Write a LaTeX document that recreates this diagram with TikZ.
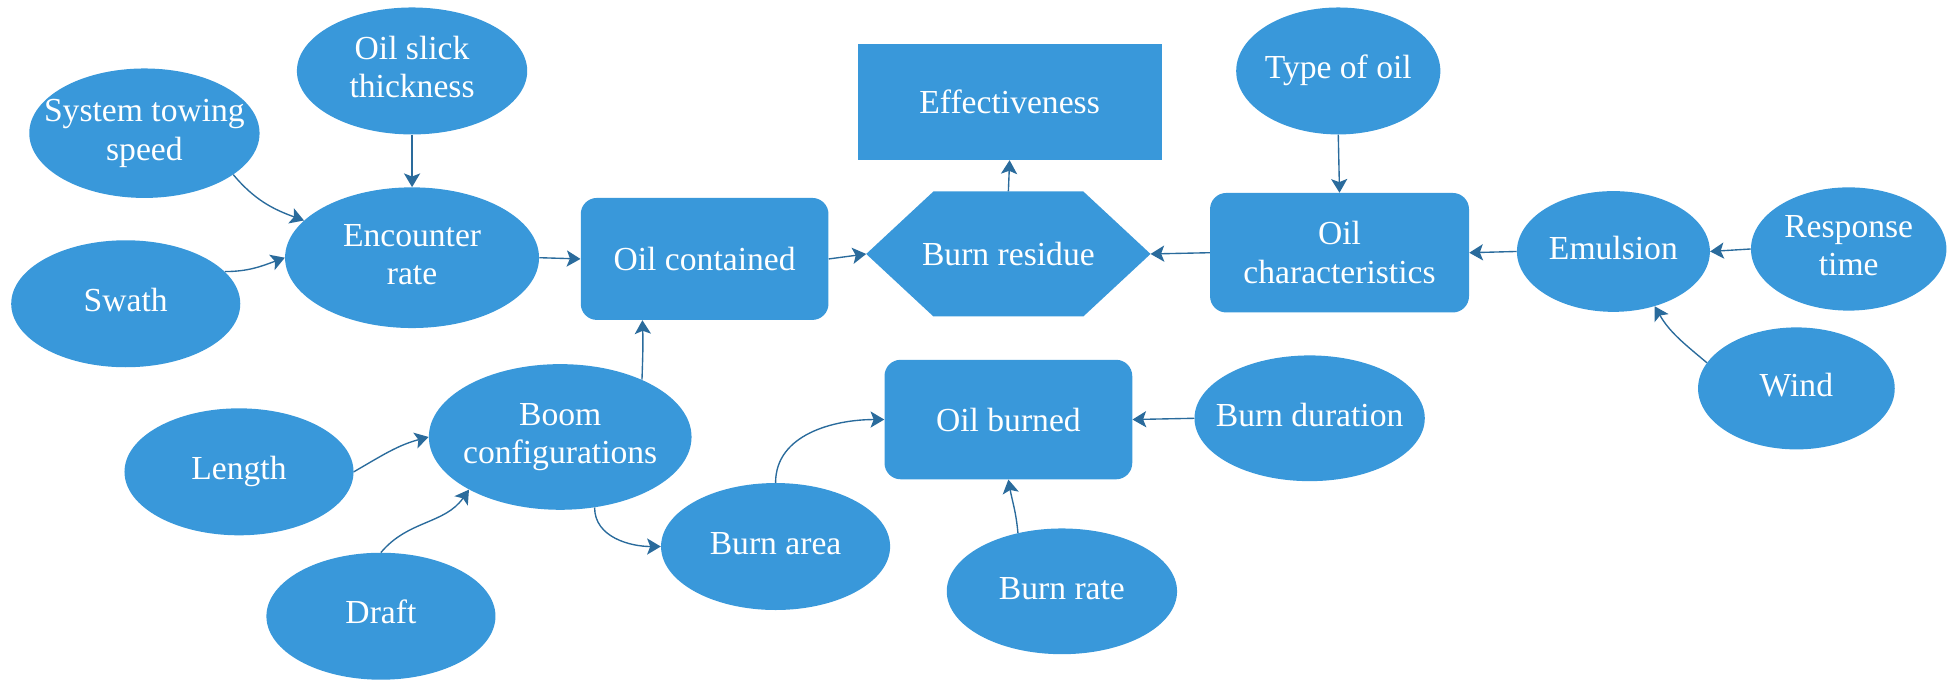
\documentclass[tikz,border=0pt]{standalone}
\usepackage{fontspec}
\setmainfont{Liberation Serif}
\newfontfamily\tnr{Liberation Serif}
\usetikzlibrary{shapes.geometric,arrows.meta,backgrounds}
\definecolor{nodefill}{HTML}{3998DA}
\definecolor{arrowcol}{HTML}{2A6B9C}
\newcommand{\zw}[1]{\makebox[0pt]{\begin{tabular}{@{}c@{}}#1\end{tabular}}}
\tikzset{
  lbl/.style={font=\tnr\fontsize{27}{31}\selectfont, text=white, align=center, inner sep=0pt},
  ell/.style={lbl, ellipse, fill=nodefill},
  rbox/.style={lbl, rectangle, rounded corners=13pt, fill=nodefill},
  sbox/.style={lbl, rectangle, fill=nodefill},
  hexbox/.style={lbl, rectangle},
  arr/.style={draw=arrowcol, line width=1.1pt, -{Stealth[length=11pt,width=13pt,inset=2.5pt]}},
}
\begin{document}
\begin{tikzpicture}[x=1pt,y=1pt]
\useasboundingbox (0,0) rectangle (1568,-549);

% nodes
\node[ell, minimum width=185pt, minimum height=104pt] (sts) at (116,-107) {\zw{System towing\\speed}};
\node[ell, minimum width=185pt, minimum height=102pt] (ost) at (331,-57) {\zw{Oil slick\\thickness}};
\node[ell, minimum width=204pt, minimum height=113pt] (enc) at (331,-207) {\zw{Encounter\\rate}};
\node[ell, minimum width=184pt, minimum height=102pt] (sw) at (101,-244) {\zw{Swath}};
\node[rbox, minimum width=199pt, minimum height=98pt] (oc) at (566,-208) {Oil contained};
\node[hexbox, minimum width=228pt, minimum height=100pt] (br) at (810,-204) {Burn residue};
\begin{scope}[on background layer]
\fill[nodefill] (br.west) -- ([xshift=54pt]br.north west) -- ([xshift=-54pt]br.north east)
  -- (br.east) -- ([xshift=-54pt]br.south east) -- ([xshift=54pt]br.south west) -- cycle;
\end{scope}
\node[sbox, minimum width=244pt, minimum height=93pt] (eff) at (811,-82) {Effectiveness};
\node[ell, minimum width=164pt, minimum height=102pt] (tof) at (1075,-57) {\zw{Type of oil}};
\node[rbox, minimum width=208pt, minimum height=96pt] (och) at (1076,-203) {Oil\\characteristics};
\node[ell, minimum width=155pt, minimum height=97pt] (em) at (1296,-202) {\zw{Emulsion}};
\node[ell, minimum width=157pt, minimum height=99pt] (rt) at (1485,-200) {\zw{Response\\time}};
\node[ell, minimum width=158pt, minimum height=98pt] (wind) at (1443,-312) {\zw{Wind}};
\node[ell, minimum width=185pt, minimum height=101pt] (bd) at (1052,-336) {\zw{Burn duration}};
\node[rbox, minimum width=199pt, minimum height=96pt] (ob) at (810,-337) {Oil burned};
\node[ell, minimum width=185pt, minimum height=101pt] (brate) at (853,-475) {\zw{Burn rate}};
\node[ell, minimum width=184pt, minimum height=102pt] (ba) at (623,-439) {\zw{Burn area}};
\node[ell, minimum width=211pt, minimum height=117pt] (boom) at (450,-351) {\zw{Boom\\configurations}};
\node[ell, minimum width=184pt, minimum height=102pt] (len) at (192,-379) {\zw{Length}};
\node[ell, minimum width=184pt, minimum height=102pt] (dr) at (306,-495) {\zw{Draft}};

% connectors
\draw[arr] (ost.south) -- (enc.north);
\draw[arr] (sts.-25) to[out=-50,in=160] (enc.161);
\draw[arr] (sw.18) to[out=0,in=200] (enc.west);
\draw[arr] (enc.east) -- (oc.west);
\draw[arr] (oc.east) -- (br.west);
\draw[arr] (br.north) -- (eff.south);
\draw[arr] (tof.south) -- (och.north);
\draw[arr] (och.west) -- (br.east);
\draw[arr] (em.west) -- (och.east);
\draw[arr] (rt.west) -- (em.east);
\draw[arr] (wind.164) to[out=140,in=-60] (em.-53);
\draw[arr] (bd.west) -- (ob.east);
\draw[arr] (brate.127) to[out=95,in=-80] (ob.south);
\draw[arr] (ba.north) to[out=90,in=180] (ob.west);
\draw[arr] (boom.-64) to[out=-90,in=180] (ba.west);
\draw[arr] (boom.35) to[out=88,in=-88] ([xshift=-50pt]oc.south);
\draw[arr] (len.east) to[out=30,in=195] (boom.west);
\draw[arr] (dr.north) to[out=50,in=235] (boom.210);
\end{tikzpicture}
\end{document}
